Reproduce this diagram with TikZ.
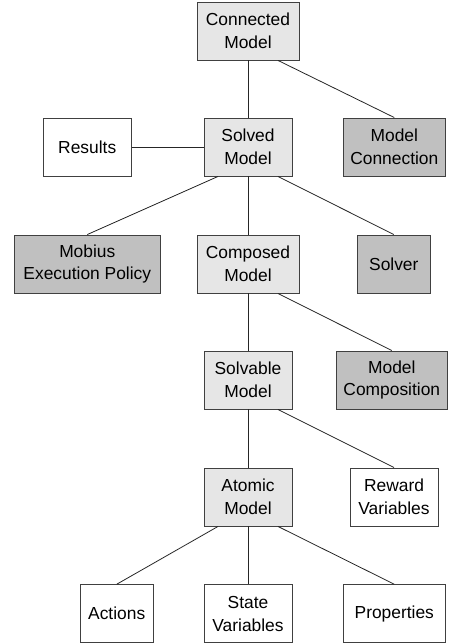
\documentclass[tikz,border=0pt]{standalone}
\usepackage{fontspec}
\setmainfont{Liberation Sans}
\definecolor{lightbox}{RGB}{230,230,230}
\definecolor{darkbox}{RGB}{192,192,192}
\definecolor{edgegray}{RGB}{64,64,64}
\begin{document}
\begin{tikzpicture}[x=1pt,y=-1pt,
  box/.style={draw=edgegray,line width=0.9pt,align=center,inner sep=0pt,
    minimum height=58pt,font=\fontsize{17.4}{22.7}\selectfont},
  lbox/.style={box,fill=lightbox},
  dbox/.style={box,fill=darkbox},
  wbox/.style={box,fill=white},
  conn/.style={line width=0.8pt,draw=black!85}]
\useasboundingbox (0,0) rectangle (448,644);
\node[lbox,minimum width=102pt] (conn) at (248,31) {Connected\\Model};
\node[lbox,minimum width=88pt] (solved) at (248,147) {Solved\\Model};
\node[dbox,minimum width=102pt] (mconn) at (394.3,147) {Model\\Connection};
\node[wbox,minimum width=88pt] (results) at (87.2,147) {Results};
\node[dbox,minimum width=146pt] (mobius) at (87.3,264) {Mobius\\Execution Policy};
\node[lbox,minimum width=102pt] (composed) at (248,264) {Composed\\Model};
\node[dbox,minimum width=73pt] (solver) at (393.8,264) {Solver};
\node[lbox,minimum width=88pt] (solvable) at (248,380) {Solvable\\Model};
\node[dbox,minimum width=111pt] (mcomp) at (391.8,380) {Model\\Composition};
\node[lbox,minimum width=88pt] (atomic) at (248,497) {Atomic\\Model};
\node[wbox,minimum width=88pt] (reward) at (394,497) {Reward\\Variables};
\node[wbox,minimum width=73pt] (actions) at (116.7,613.7) {Actions};
\node[wbox,minimum width=88pt] (state) at (248,613.7) {State\\Variables};
\node[wbox,minimum width=102pt] (props) at (394.3,613.7) {Properties};
\draw[conn] (conn) -- (solved);
\draw[conn] ([xshift=30pt]conn.south) -- (mconn.north);
\draw[conn] (results) -- (solved);
\draw[conn] ([xshift=-30pt]solved.south) -- (mobius.north);
\draw[conn] (solved) -- (composed);
\draw[conn] ([xshift=30pt]solved.south) -- (solver.north);
\draw[conn] (composed) -- (solvable);
\draw[conn] ([xshift=30pt]composed.south) -- (mcomp.north);
\draw[conn] (solvable) -- (atomic);
\draw[conn] ([xshift=30pt]solvable.south) -- (reward.north);
\draw[conn] ([xshift=-30pt]atomic.south) -- (actions.north);
\draw[conn] (atomic) -- (state);
\draw[conn] ([xshift=30pt]atomic.south) -- (props.north);
\end{tikzpicture}
\end{document}
